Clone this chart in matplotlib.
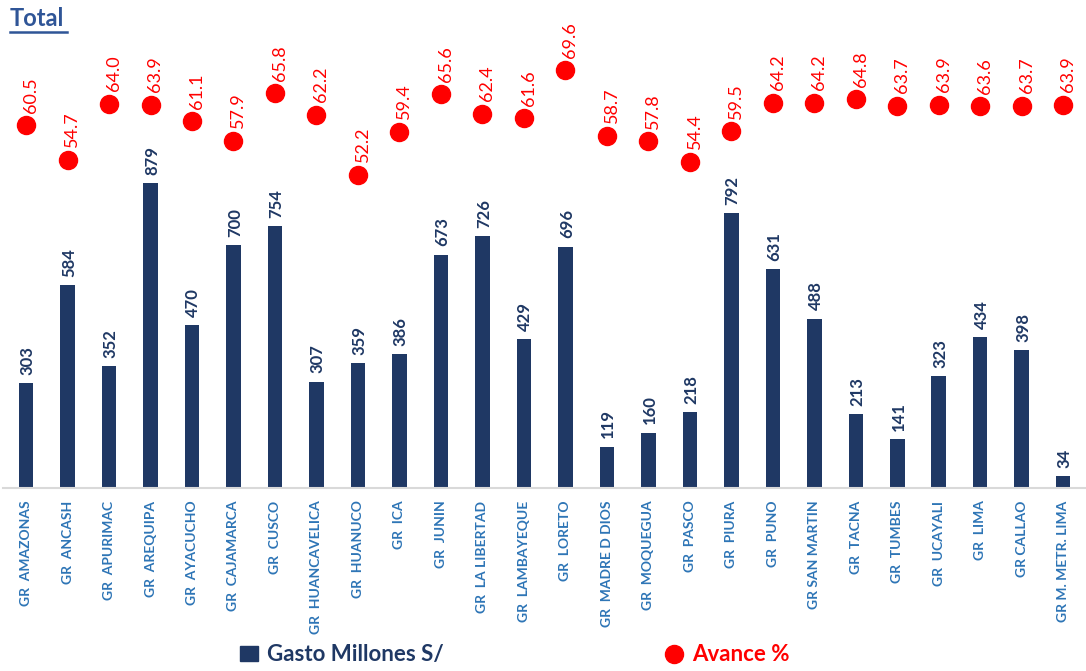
import matplotlib.pyplot as plt
from matplotlib.lines import Line2D
from matplotlib.patches import Patch
import numpy as np

plt.rcParams['font.family'] = ['Lato', 'DejaVu Sans']

regiones = ['GR  AMAZONAS', 'GR  ANCASH', 'GR  APURIMAC', 'GR  AREQUIPA', 'GR  AYACUCHO',
            'GR  CAJAMARCA', 'GR  CUSCO', 'GR  HUANCAVELICA', 'GR  HUANUCO', 'GR  ICA',
            'GR  JUNIN', 'GR  LA LIBERTAD', 'GR  LAMBAYEQUE', 'GR  LORETO', 'GR  MADRE D DIOS',
            'GR  MOQUEGUA', 'GR  PASCO', 'GR  PIURA', 'GR  PUNO', 'GR SAN MARTIN',
            'GR  TACNA', 'GR  TUMBES', 'GR  UCAYALI', 'GR  LIMA', 'GR CALLAO', 'GR M. METR. LIMA']
gasto = [303, 584, 352, 879, 470, 700, 754, 307, 359, 386, 673, 726, 429, 696, 119,
         160, 218, 792, 631, 488, 213, 141, 323, 434, 398, 34]
avance = [60.5, 54.7, 64.0, 63.9, 61.1, 57.9, 65.8, 62.2, 52.2, 59.4, 65.6, 62.4, 61.6,
          69.6, 58.7, 57.8, 54.4, 59.5, 64.2, 64.2, 64.8, 63.7, 63.9, 63.6, 63.7, 63.9]

navy = '#1F3864'
rojo = '#FF0000'
azul = '#2E75B6'

fig = plt.figure(figsize=(10.86, 6.71), dpi=100)
ax = fig.add_axes([0.003, 0.2727, 0.997, 0.6975])
x = np.arange(len(regiones))

bars = ax.bar(x, gasto, width=0.35, color=navy)
for xi, v in zip(x, gasto):
    ax.annotate(str(v), (xi, v), xytext=(1, 6), textcoords='offset points',
                ha='center', va='bottom', rotation=90, fontsize=12, fontweight='bold',
                color=navy)
ax.set_ylim(0, 1349)
ax.set_xlim(-0.55, len(regiones) - 0.45)
ax.set_yticks([])
for s in ['top', 'right', 'left']:
    ax.spines[s].set_visible(False)
ax.spines['bottom'].set_color('#D9D9D9')
ax.spines['bottom'].set_linewidth(1.5)
ax.set_xticks(x)
ax.set_xticklabels(regiones, rotation=90, fontsize=10, color=azul, fontweight='bold')
ax.tick_params(axis='x', length=0, pad=9)

ax2 = ax.twinx()
ax2.plot(x, avance, 'o', color=rojo, markersize=13, linestyle='none')
for xi, v in zip(x, avance):
    ax2.annotate(f'{v:.1f}', (xi, v), xytext=(3.5, 9), textcoords='offset points',
                 ha='center', va='bottom', rotation=90, fontsize=13, color=rojo)
ax2.set_ylim(0, 78)
ax2.set_yticks([])
for s in ['top', 'right', 'left', 'bottom']:
    ax2.spines[s].set_visible(False)

# titulo subrayado
fig.text(0.009, 0.955, 'Total', fontsize=17, fontweight='bold', color='#2F5597',
         ha='left', va='bottom')
fig.add_artist(Line2D([0.009, 0.062], [0.952, 0.952], color='#2F5597', linewidth=1.8,
                      transform=fig.transFigure))

handles = [Patch(color=navy), Line2D([], [], marker='o', color=rojo, markersize=13,
                                     linestyle='none')]
fig.legend(handles, ['Gasto Millones S/', 'Avance %'], loc='center', ncol=2,
           bbox_to_anchor=(0.474, 0.024), frameon=False, columnspacing=10,
           handlelength=0.8, handletextpad=0.4, labelcolor=[navy, rojo],
           prop={'size': 16, 'weight': 'bold'})

fig.savefig('out.png', dpi=100)
